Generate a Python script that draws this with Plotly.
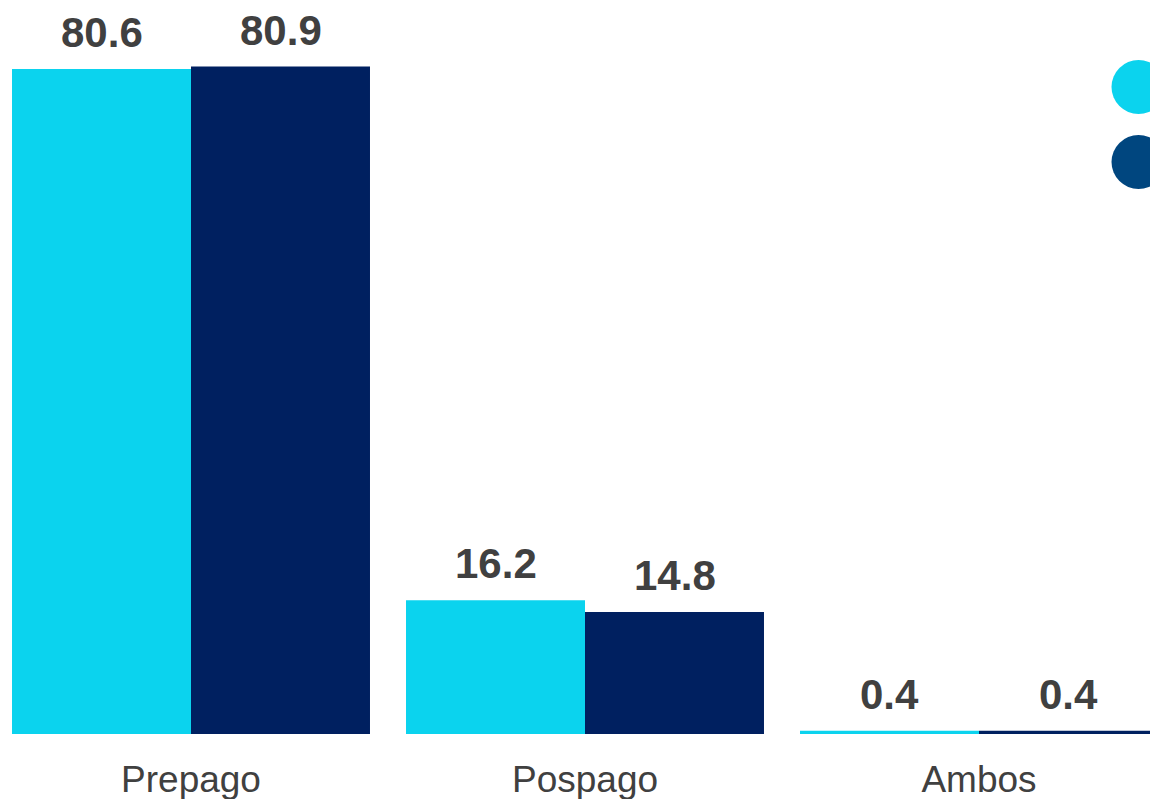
import plotly.graph_objects as go

categories = ["Prepago", "Pospago", "Ambos"]
series_a = [80.6, 16.2, 0.4]
series_b = [80.9, 14.8, 0.4]
series_names = ["Serie 1", "Serie 2"]
bar_colors = ["#0BD3EE", "#002060"]
legend_colors = ["#0BD3EE", "#00467F"]
text_color = "#404040"

W, H = 1150, 799
bargap = 0.0914

fig = go.Figure()
for name, vals, col in zip(series_names, [series_a, series_b], bar_colors):
    fig.add_trace(go.Bar(x=categories, y=vals, name=name, marker=dict(color=col, line=dict(width=0)),
                         showlegend=False))

# value labels above bars
bw = (1 - bargap) / 2
for k, vals in enumerate([series_a, series_b]):
    off = (k - 0.5) * bw
    for i, v in enumerate(vals):
        fig.add_annotation(x=i + off, y=v, xref="x", yref="y", text=f"<b>{v:.1f}</b>",
                           showarrow=False, yanchor="bottom", yshift=11,
                           font=dict(family="Liberation Sans, Arial", size=42, color=text_color))

# legend circles (cut off at right edge as in reference)
for cy, col in zip([87, 162], legend_colors):
    fig.add_shape(type="circle", xref="paper", yref="paper", xsizemode="pixel", ysizemode="pixel",
                  xanchor=1138.5 / W, yanchor=(734 - cy) / 734, x0=-27, x1=27, y0=-27, y1=27,
                  fillcolor=col, line=dict(width=0), layer="above")

fig.update_layout(
    width=W, height=H,
    margin=dict(l=0, r=0, t=0, b=65),
    barmode="group", bargap=bargap, bargroupgap=0,
    plot_bgcolor="white", paper_bgcolor="white",
    showlegend=False,
    xaxis=dict(range=[-191 / 394, (W - 191) / 394], showgrid=False, zeroline=False, showline=False,
               ticks="", ticklabelstandoff=20,
               tickfont=dict(family="Liberation Sans, Arial", size=37, color=text_color)),
    yaxis=dict(range=[0, 734 / 8.25], visible=False, showgrid=False, zeroline=False),
)

fig.write_html("out.html", config={"displayModeBar": False},
               post_script="document.body.style.margin='0';document.body.style.padding='0';document.body.style.overflow='hidden';")
